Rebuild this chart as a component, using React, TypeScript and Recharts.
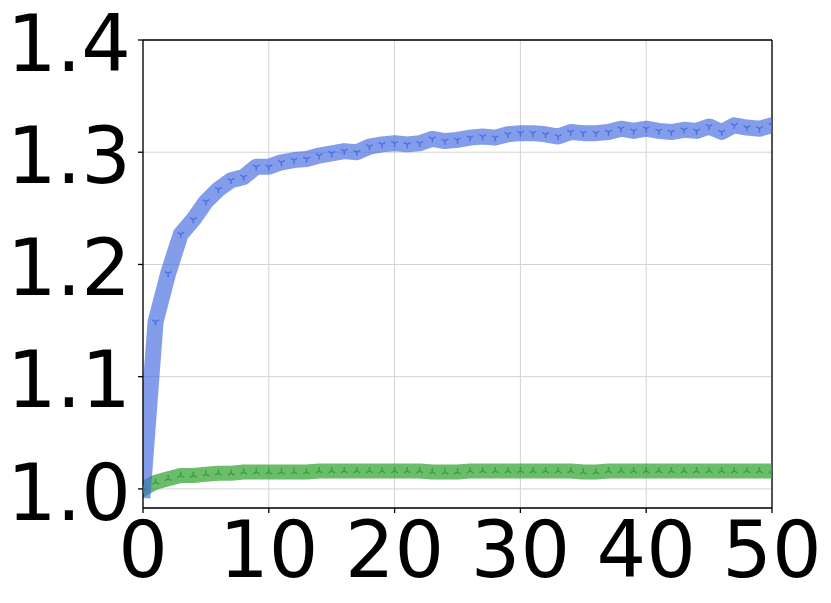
import { LineChart, Line, XAxis, YAxis, CartesianGrid, ReferenceLine } from 'recharts';

const epochs = [
  0, 1, 2, 3, 4, 5, 6, 7, 8, 9, 10, 11, 12, 13, 14, 15, 16, 17, 18, 19, 20, 21, 22, 23, 24, 25,
  26, 27, 28, 29, 30, 31, 32, 33, 34, 35, 36, 37, 38, 39, 40, 41, 42, 43, 44, 45, 46, 47, 48, 49, 50,
];

const blueSeries = [
  0.999, 1.149, 1.192, 1.227, 1.24, 1.256, 1.267, 1.275, 1.278, 1.287, 1.287, 1.291, 1.293, 1.294,
  1.297, 1.299, 1.301, 1.3, 1.305, 1.307, 1.308, 1.307, 1.308, 1.312, 1.31, 1.311, 1.313, 1.314,
  1.313, 1.316, 1.317, 1.317, 1.316, 1.314, 1.318, 1.317, 1.317, 1.318, 1.321, 1.319, 1.321, 1.319,
  1.318, 1.32, 1.319, 1.323, 1.318, 1.324, 1.322, 1.321, 1.324,
];

const greenSeries = [
  1.0, 1.006, 1.009, 1.012, 1.012, 1.013, 1.014, 1.014, 1.015, 1.015, 1.015, 1.015, 1.015, 1.015,
  1.016, 1.016, 1.016, 1.016, 1.016, 1.016, 1.016, 1.016, 1.016, 1.015, 1.015, 1.015, 1.016, 1.016,
  1.016, 1.016, 1.016, 1.016, 1.016, 1.016, 1.016, 1.015, 1.015, 1.016, 1.016, 1.016, 1.016, 1.016,
  1.016, 1.016, 1.016, 1.016, 1.016, 1.016, 1.016, 1.016, 1.016,
];

const xTicks = [0, 10, 20, 30, 40, 50];
const yTicks = [1.0, 1.1, 1.2, 1.3, 1.4];

const data = epochs.map((e, i) => ({ epoch: e, blue: blueSeries[i], green: greenSeries[i] }));

const FONT = '"DejaVu Sans", sans-serif';

// matplotlib-style tri markers: 'down' draws a Y, 'up' draws the flipped one
function triMarker(color: string, dir: 'up' | 'down') {
  return (props: any) => {
    const { cx, cy, index } = props;
    if (cx == null || cy == null) return <g key={index} />;
    const r = 3.8;
    const s = dir === 'down' ? 1 : -1;
    const d =
      `M${cx},${cy} L${cx},${cy + s * r} ` +
      `M${cx},${cy} L${cx - 0.866 * r},${cy - s * 0.5 * r} ` +
      `M${cx},${cy} L${cx + 0.866 * r},${cy - s * 0.5 * r}`;
    return <path key={index} d={d} stroke={color} strokeWidth={1.4} fill="none" strokeOpacity={0.85} />;
  };
}

// y tick label nudged a few px lower, like the reference
function YTick(props: any) {
  const { x, y, payload } = props;
  return (
    <text x={x} y={y + 3} dy="0.355em" textAnchor="end" fontSize={78} fill="#000" fontFamily={FONT}>
      {Number(payload.value).toFixed(1)}
    </text>
  );
}

export default function App() {
  return (
    <div style={{ position: 'absolute', left: 0, top: 0, background: '#fff' }}>
      <LineChart
        width={831}
        height={603}
        data={data}
        margin={{ top: 40, right: 59, bottom: 0, left: 0 }}
      >
        <CartesianGrid stroke="#d3d3d3" strokeWidth={1} />
        <XAxis
          dataKey="epoch"
          type="number"
          domain={[0, 50]}
          ticks={xTicks}
          interval={0}
          allowDataOverflow
          axisLine={{ stroke: '#000', strokeWidth: 1.3 }}
          tickLine={{ stroke: '#000', strokeWidth: 1.3 }}
          tickSize={5}
          tickMargin={9}
          height={95}
          tick={{ fontSize: 78, fill: '#000', fontFamily: FONT }}
        />
        <YAxis
          type="number"
          domain={[0.983, 1.4]}
          ticks={yTicks}
          interval={0}
          allowDataOverflow
          width={143}
          axisLine={{ stroke: '#000', strokeWidth: 1.3 }}
          tickLine={{ stroke: '#000', strokeWidth: 1.3 }}
          tickSize={5}
          tickMargin={7}
          tick={<YTick />}
        />
        {/* top and right spines */}
        <ReferenceLine y={1.4} stroke="#000" strokeWidth={1.3} />
        <ReferenceLine x={50} stroke="#000" strokeWidth={1.3} />
        <Line
          dataKey="green"
          stroke="#2ca02c"
          strokeOpacity={0.7}
          strokeWidth={15}
          strokeLinejoin="round"
          strokeLinecap="square"
          dot={triMarker('#2ca02c', 'up')}
          activeDot={false}
          isAnimationActive={false}
        />
        <Line
          dataKey="blue"
          stroke="#4169e1"
          strokeOpacity={0.65}
          strokeWidth={16}
          strokeLinejoin="round"
          strokeLinecap="square"
          dot={triMarker('#4169e1', 'down')}
          activeDot={false}
          isAnimationActive={false}
        />
      </LineChart>
    </div>
  );
}
